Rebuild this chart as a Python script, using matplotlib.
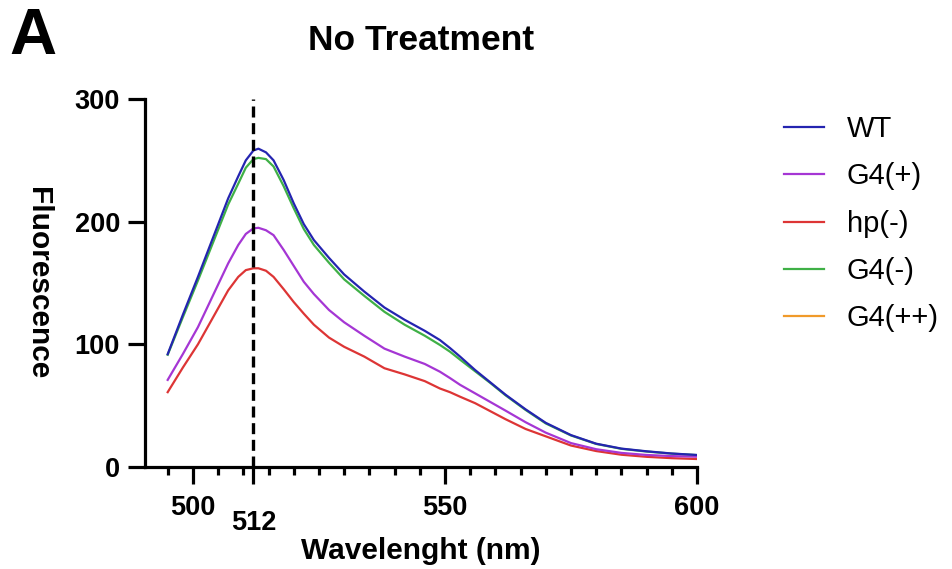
import matplotlib
matplotlib.use("Agg")
import matplotlib.pyplot as plt
from matplotlib.ticker import FixedLocator

plt.rcParams['font.family'] = ['Liberation Sans', 'DejaVu Sans']

# wavelengths (nm) and fluorescence readings
wavelength = [495, 498, 501, 504, 507, 509, 510.5, 512, 513, 514.5, 516, 518, 520, 522,
              524, 527, 530, 534, 538, 542, 546, 549, 551, 553, 556, 559, 562, 566,
              570, 575, 580, 585, 590, 595, 600]
wt = [92, 124, 155, 187, 219, 237, 250, 258, 259.5, 256.5, 250, 234, 215, 198,
      185, 170.5, 157, 143, 130, 120, 111, 103.5, 97, 90, 79, 69, 59, 47,
      36, 26, 19, 15, 12.8, 11, 9.8]
g4_plus = [71, 92, 114, 140, 166, 181, 190, 194.5, 195, 193, 189, 177, 164, 151,
           141, 128, 118, 107, 96.5, 90, 84, 77.7, 72.5, 67, 60, 53, 46, 36.5,
           28, 19.5, 14.5, 11.5, 9.8, 8.9, 8.4]
hp_minus = [61, 81, 100, 122, 144, 155, 160.5, 162, 162, 160, 155, 145, 134.5, 125,
            116, 105.5, 98, 90, 80.5, 75.5, 70, 64, 61, 57.3, 52, 45.5, 39, 31,
            25, 17.5, 13, 10, 8.3, 7.2, 6.5]
g4_minus = [91.5, 122, 152, 183, 214, 231, 244, 251, 252, 251, 245, 229, 211, 194,
            181, 166.5, 153, 139.5, 126.5, 116, 107, 99.5, 94, 87.5, 78, 68.5, 58.5, 46.5,
            35.5, 25.7, 18.8, 14.8, 12.6, 10.9, 9.7]
g4_pp = []  # listed in legend, no visible trace

series = [("WT", wt, "#2424b0"),
          ("G4(+)", g4_plus, "#a536d4"),
          ("hp(-)", hp_minus, "#dd3535"),
          ("G4(-)", g4_minus, "#3fb046"),
          ("G4(++)", g4_pp, "#f09a2a")]

fig = plt.figure(figsize=(9.52, 5.69), dpi=100)
ax = fig.add_axes([145/952, 1-467/569, 552/952, 368/569])

# draw in an order that keeps blue on top of green
for name, vals, col in [series[3], series[2], series[1], series[0], series[4]]:
    ax.plot(wavelength[:len(vals)], vals, color=col, lw=1.6, label=name,
            solid_joinstyle='round')

ax.axvline(512, ymin=0, ymax=1, color='black', lw=2.4, ls=(0, (3.3, 1.7)), zorder=5)

ax.set_xlim(490.5, 600)
ax.set_ylim(0, 300)
ax.spines['top'].set_visible(False)
ax.spines['right'].set_visible(False)
for s in ['left', 'bottom']:
    ax.spines[s].set_linewidth(2.3)

ax.xaxis.set_major_locator(FixedLocator([500, 512, 550, 600]))
ax.xaxis.set_minor_locator(FixedLocator([495, 505, 510] + list(range(515, 600, 5))))
ax.set_xticklabels(['500', '', '550', '600'])
ax.set_yticks([0, 100, 200, 300])
ax.tick_params(which='major', length=12, width=2.3, labelsize=19.5, pad=6)
ax.tick_params(axis='x', which='major', pad=8)
ax.tick_params(which='minor', length=6, width=2.3)
for lab in ax.get_xticklabels() + ax.get_yticklabels():
    lab.set_fontweight('bold')

ax.annotate('512', xy=(512, 0), xycoords=('data', 'axes fraction'),
            xytext=(0, -31), textcoords='offset points', ha='center', va='top',
            fontsize=19.5, fontweight='bold')

ax.set_xlabel('Wavelenght (nm)', fontsize=21.5, fontweight='bold')
ax.xaxis.set_label_coords(0.5, -0.19)
ax.set_ylabel('Fluorescence', fontsize=21.5, fontweight='bold', rotation=270,
              va='center', ha='center')
ax.yaxis.set_label_coords(-0.193, 0.5)

fig.text(421/952, 1-41/569, 'No Treatment', fontsize=25.5, fontweight='bold',
         ha='center', va='center')
fig.text(0.01, 0.988, 'A', fontsize=47, fontweight='bold', ha='left', va='top')

h, l = ax.get_legend_handles_labels()
order = [l.index(n) for n, _, _ in series]
fig.legend([h[i] for i in order], [l[i] for i in order], loc='upper left',
           bbox_to_anchor=(758/952, 1-89/569), frameon=False, fontsize=21,
           handlelength=1.37, handletextpad=0.78, labelspacing=0.66)

fig.savefig('out.png', dpi=100)
